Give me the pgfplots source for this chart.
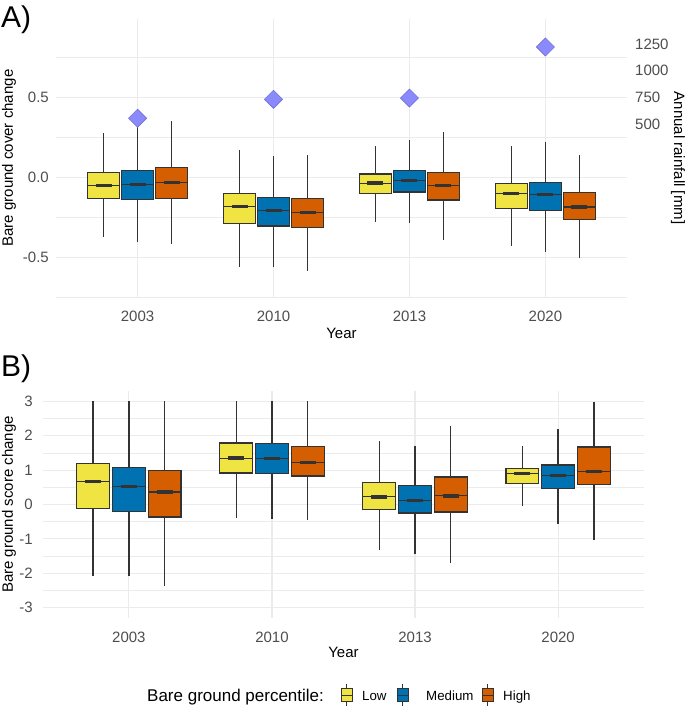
\documentclass[border=0pt]{standalone}
\usepackage{fontspec}
\setmainfont{Liberation Sans}
\usepackage{pgfplots}
\pgfplotsset{compat=1.18}
\usepgfplotslibrary{statistics}
\definecolor{lowc}{HTML}{F0E442}
\definecolor{medc}{HTML}{0072B2}
\definecolor{highc}{HTML}{D55E00}
\definecolor{edge}{HTML}{333333}
\definecolor{gridc}{HTML}{EBEBEB}
\definecolor{tickc}{HTML}{4D4D4D}
\definecolor{rainfill}{RGB}{138,138,252}
\definecolor{raindraw}{RGB}{112,112,215}

\pgfplotsset{
  boxplot/every median/.style={line width=1.1pt},
  boxplot/every whisker/.style={line width=1.3pt},
  base/.style={
    scale only axis, anchor=south west,
    xmin=0.4, xmax=4.6,
    xtick={1,2,3,4}, xticklabels={2003,2010,2013,2020},
    axis line style={draw=none},
    major tick length=0pt, minor tick length=0pt,
    xmajorgrids, ymajorgrids, yminorgrids,
    major grid style={draw=gridc, line width=1.1pt},
    minor grid style={draw=gridc, line width=0.6pt},
    tick label style={font=\fontsize{15}{18}\selectfont, text=tickc},
    xticklabel style={anchor=center, yshift=-19pt},
    yticklabel style={anchor=east, inner sep=0pt, xshift=-7pt},
    xlabel={Year},
    clip=false,
  }
}

% pos, lower whisker, Q1, median, Q3, upper whisker, colour, box width
\newcommand{\bx}[8]{%
  \addplot[draw=edge, fill=#7, line width=1.3pt,
    boxplot prepared={draw direction=y, draw position=#1, lower whisker=#2, lower quartile=#3,
      median=#4, upper quartile=#5, upper whisker=#6, box extend=#8, whisker extend=0}]
    coordinates {};
  \addplot[only marks, mark=-, mark size=8pt, mark options={draw=edge, line width=3.2pt}]
    coordinates {(#1,#4)};
}

\begin{document}
\begin{tikzpicture}
\path[use as bounding box] (0pt,0pt) rectangle (685pt,-707pt);

% ---------------- Panel A ----------------
\begin{axis}[base,
  at={(56pt,-297pt)}, width=571pt, height=278pt,
  ymin=-0.75, ymax=0.99,
  ytick={-0.5,0,0.5}, yticklabels={-0.5,0.0,0.5},
  minor ytick={-0.75,-0.25,0.25,0.75},
  ylabel={Bare ground cover change},
  every axis y label/.style={at={(rel axis cs:0,0.5)}, anchor=center, xshift=-47pt, rotate=90, font=\fontsize{15}{18}\selectfont},
  every axis x label/.style={at={(rel axis cs:0.5,0)}, anchor=center, yshift=-36pt, font=\fontsize{15}{18}\selectfont},
]
\bx{0.75}{-0.377}{-0.135}{-0.054}{0.030}{0.275}{lowc}{0.235}
\bx{1.00}{-0.408}{-0.140}{-0.048}{0.042}{0.320}{medc}{0.235}
\bx{1.25}{-0.420}{-0.133}{-0.031}{0.060}{0.350}{highc}{0.235}
\bx{1.75}{-0.560}{-0.290}{-0.185}{-0.104}{0.167}{lowc}{0.235}
\bx{2.00}{-0.565}{-0.306}{-0.208}{-0.129}{0.133}{medc}{0.235}
\bx{2.25}{-0.585}{-0.317}{-0.221}{-0.135}{0.137}{highc}{0.235}
\bx{2.75}{-0.279}{-0.102}{-0.037}{0.019}{0.196}{lowc}{0.235}
\bx{3.00}{-0.285}{-0.092}{-0.023}{0.042}{0.233}{medc}{0.235}
\bx{3.25}{-0.394}{-0.142}{-0.052}{0.029}{0.283}{highc}{0.235}
\bx{3.75}{-0.429}{-0.198}{-0.100}{-0.040}{0.192}{lowc}{0.235}
\bx{4.00}{-0.469}{-0.210}{-0.108}{-0.035}{0.223}{medc}{0.235}
\bx{4.25}{-0.504}{-0.267}{-0.187}{-0.098}{0.137}{highc}{0.235}
\end{axis}

% rainfall axis (right)
\begin{axis}[
  scale only axis, anchor=south west,
  at={(56pt,-297pt)}, width=571pt, height=278pt,
  xmin=0.4, xmax=4.6, ymin=-1125, ymax=1485,
  axis y line*=right, axis x line=none,
  axis line style={draw=none}, major tick length=0pt,
  ytick={500,750,1000,1250}, yticklabels={500,750,1000,1250},
  tick label style={font=\fontsize{15}{18}\selectfont, text=tickc},
  yticklabel style={anchor=west, inner sep=0pt, xshift=8pt},
  ylabel={Annual rainfall [mm]},
  every axis y label/.style={at={(rel axis cs:1,0.5)}, anchor=center, xshift=51pt, rotate=-90, font=\fontsize{15}{18}\selectfont},
  clip=false,
]
\addplot[only marks, mark=square*, mark size=6.4pt,
  mark options={rotate=45, fill=rainfill, draw=raindraw, line width=0.6pt}]
  coordinates {(1,553) (2,731) (3,743) (4,1222)};
\end{axis}

% ---------------- Panel B ----------------
\begin{axis}[base,
  at={(43pt,-618pt)}, width=601pt, height=227pt,
  ymin=-3.3, ymax=3.3,
  ytick={-3,-2,-1,0,1,2,3}, yticklabels={-3,-2,-1,0,1,2,3},
  minor ytick={-2.5,-1.5,-0.5,0.5,1.5,2.5},
  ylabel={Bare ground score change},
  yticklabel style={xshift=-3pt},
  every axis y label/.style={at={(rel axis cs:0,0.5)}, anchor=center, xshift=-34pt, rotate=90, font=\fontsize{15}{18}\selectfont},
  every axis x label/.style={at={(rel axis cs:0.5,0)}, anchor=center, yshift=-34pt, font=\fontsize{15}{18}\selectfont},
]
\bx{0.75}{-2.09}{-0.125}{0.66}{1.20}{3.0}{lowc}{0.23}
\bx{1.00}{-2.09}{-0.20}{0.518}{1.074}{3.0}{medc}{0.23}
\bx{1.25}{-2.37}{-0.365}{0.365}{0.99}{3.0}{highc}{0.23}
\bx{1.75}{-0.39}{0.92}{1.35}{1.79}{3.0}{lowc}{0.23}
\bx{2.00}{-0.41}{0.90}{1.33}{1.78}{3.0}{medc}{0.23}
\bx{2.25}{-0.46}{0.825}{1.23}{1.69}{3.0}{highc}{0.23}
\bx{2.75}{-1.32}{-0.144}{0.22}{0.65}{1.84}{lowc}{0.23}
\bx{3.00}{-1.43}{-0.25}{0.125}{0.547}{1.71}{medc}{0.23}
\bx{3.25}{-1.71}{-0.22}{0.25}{0.80}{2.27}{highc}{0.23}
\bx{3.75}{-0.04}{0.614}{0.89}{1.046}{1.70}{lowc}{0.23}
\bx{4.00}{-0.556}{0.46}{0.835}{1.15}{2.19}{medc}{0.23}
\bx{4.25}{-1.046}{0.576}{0.97}{1.67}{2.98}{highc}{0.23}
\end{axis}

% panel letters
\node[anchor=base west, inner sep=0pt, font=\fontsize{30}{36}\selectfont] at (1pt,-27pt) {A)};
\node[anchor=base west, inner sep=0pt, font=\fontsize{30}{36}\selectfont] at (1pt,-376pt) {B)};

% legend
\node[anchor=base west, inner sep=0pt, font=\fontsize{17}{20}\selectfont] at (147pt,-701pt) {Bare ground percentile:};
\foreach \xx/\cc/\lab/\lx in {341/lowc/Low/362, 397/medc/Medium/426, 482/highc/High/503}{
  \draw[edge, line width=1pt] (\xx pt+5.75pt,-684pt) -- (\xx pt+5.75pt,-706pt);
  \draw[draw=edge, fill=\cc, line width=1pt] (\xx pt,-688.5pt) rectangle (\xx pt+11.5pt,-701.5pt);
  \draw[edge, line width=0.9pt] (\xx pt,-695pt) -- (\xx pt+11.5pt,-695pt);
  \node[anchor=base west, inner sep=0pt, font=\fontsize{13.3}{16}\selectfont] at (\lx pt,-700pt) {\lab};
}
\end{tikzpicture}
\end{document}
